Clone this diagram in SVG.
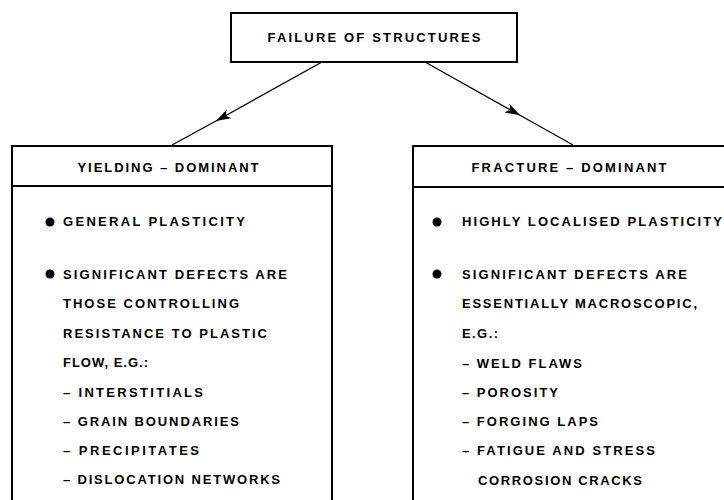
<svg xmlns="http://www.w3.org/2000/svg" width="724" height="500" viewBox="0 0 724 500">
<style>
  .box { fill: #fff; stroke: #000; stroke-width: 2; }
  .div { stroke: #000; stroke-width: 2; }
  text { font-family: "Liberation Sans", Arial, sans-serif; font-size: 13px; fill: #000; font-weight: 600; }
  .hd { text-anchor: middle; }
  .conn { fill: none; stroke: #000; stroke-width: 1.3; marker-mid: url(#arrow); }
  .dot { fill: #000; }
</style>
<defs>
  <marker id="arrow" markerUnits="userSpaceOnUse" markerWidth="16" markerHeight="10" refX="15" refY="5" orient="auto" viewBox="0 0 16 10">
    <path d="M0,0 L15,5 L0,10 L4,5 z" fill="#000"/>
  </marker>
</defs>
<rect width="724" height="500" fill="#fff"/>
<g id="connectors">
  <path class="conn" d="M322,62 L216,121 L172,145"/>
  <path class="conn" d="M425,62 L520,115.3 L573,145"/>
</g>
<g id="root">
  <rect class="box" x="231" y="13" width="286" height="49"/>
  <text class="hd" x="374" y="42" textLength="213" lengthAdjust="spacing">FAILURE OF STRUCTURES</text>
</g>
<g id="yielding">
  <rect class="box" x="12" y="146" width="320" height="370"/>
  <line class="div" x1="12" y1="186" x2="332" y2="186"/>
  <text class="hd" x="168" y="172" textLength="181" lengthAdjust="spacing">YIELDING – DOMINANT</text>
  <circle class="dot" cx="50" cy="222" r="4.5"/>
  <text x="63" y="226" textLength="182" lengthAdjust="spacing">GENERAL PLASTICITY</text>
  <circle class="dot" cx="50" cy="274" r="4.5"/>
  <text x="63" y="279" textLength="224" lengthAdjust="spacing">SIGNIFICANT DEFECTS ARE</text>
  <text x="63" y="308" textLength="176" lengthAdjust="spacing">THOSE CONTROLLING</text>
  <text x="63" y="338" textLength="204" lengthAdjust="spacing">RESISTANCE TO PLASTIC</text>
  <text x="63" y="367" textLength="85" lengthAdjust="spacing">FLOW, E.G.:</text>
  <text x="63" y="397" textLength="140" lengthAdjust="spacing">– INTERSTITIALS</text>
  <text x="63" y="426" textLength="176" lengthAdjust="spacing">– GRAIN BOUNDARIES</text>
  <text x="63" y="455" textLength="136" lengthAdjust="spacing">– PRECIPITATES</text>
  <text x="63" y="484" textLength="217" lengthAdjust="spacing">– DISLOCATION NETWORKS</text>
</g>
<g id="fracture">
  <rect class="box" x="413" y="146" width="330" height="370"/>
  <line class="div" x1="413" y1="187" x2="743" y2="187"/>
  <text class="hd" x="569" y="172" textLength="195" lengthAdjust="spacing">FRACTURE – DOMINANT</text>
  <circle class="dot" cx="437" cy="222" r="4.5"/>
  <text x="462" y="226" textLength="260" lengthAdjust="spacing">HIGHLY LOCALISED PLASTICITY</text>
  <circle class="dot" cx="437" cy="274" r="4.5"/>
  <text x="462" y="279" textLength="225" lengthAdjust="spacing">SIGNIFICANT DEFECTS ARE</text>
  <text x="462" y="308" textLength="235" lengthAdjust="spacing">ESSENTIALLY MACROSCOPIC,</text>
  <text x="462" y="338" textLength="36" lengthAdjust="spacing">E.G.:</text>
  <text x="462" y="368" textLength="120" lengthAdjust="spacing">– WELD FLAWS</text>
  <text x="462" y="397" textLength="96" lengthAdjust="spacing">– POROSITY</text>
  <text x="462" y="426" textLength="136" lengthAdjust="spacing">– FORGING LAPS</text>
  <text x="462" y="455" textLength="193" lengthAdjust="spacing">– FATIGUE AND STRESS</text>
  <text x="478" y="485" textLength="164" lengthAdjust="spacing">CORROSION CRACKS</text>
</g>
</svg>
